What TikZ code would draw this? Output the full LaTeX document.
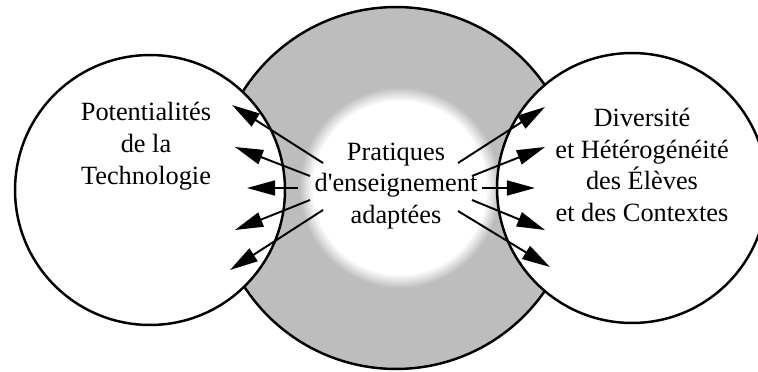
\documentclass[tikz,border=0pt]{standalone}
\usepackage{fontspec}
\setmainfont{Liberation Serif}
\usetikzlibrary{arrows.meta}
\begin{document}
\begin{tikzpicture}[x=0.02cm,y=-0.02cm,
  circ/.style={draw=black, line width=1.4pt},
  lbl/.style={align=center, font=\fontsize{15}{18.1}\selectfont, inner sep=0pt},
  arr/.style={line width=1.1pt, -{Triangle[length=16pt,width=8.5pt]}}]
\useasboundingbox (0,0) rectangle (758,372);
% central ring
\coordinate (cC) at (396,188);
\coordinate (cW) at (400,188);
\coordinate (cL) at (150,190);
\coordinate (cR) at (632,188);
\fill[black!26] (cC) circle[radius=3.62cm];
\foreach \i in {0,...,14}{
  \pgfmathsetmacro{\rr}{0.02*(101-\i)}
  \pgfmathsetmacro{\pc}{26*(14-\i)/14}
  \fill[black!\pc!white] (cW) circle[radius=\rr cm];
}
\draw[circ] (cC) circle[radius=3.62cm];
% side circles
\filldraw[circ, fill=white] (cL) circle[radius=2.7cm];
\filldraw[circ, fill=white] (cR) circle[radius=2.7cm];
% texts
\node[lbl] (tech) at (146,146) {Potentialités\\de la\\Technologie};
\node[lbl] (prat) at (396,186) {Pratiques\\d\textquotesingle enseignement\\adaptées};
\node[lbl] (div) at (642,165) {Diversité\\et Hétérogénéité\\des Élèves\\et des Contextes};
% arrow coordinates
\coordinate (l1s) at (323,163); \coordinate (l1t) at (232,105);
\coordinate (l2s) at (310,176); \coordinate (l2t) at (235,147);
\coordinate (l3s) at (298,188); \coordinate (l3t) at (247,188);
\coordinate (l4s) at (310,200); \coordinate (l4t) at (235,230);
\coordinate (l5s) at (323,210); \coordinate (l5t) at (230,270);
\coordinate (r1s) at (458,163); \coordinate (r1t) at (545,107);
\coordinate (r2s) at (472,176); \coordinate (r2t) at (545,147);
\coordinate (r3s) at (482,188); \coordinate (r3t) at (535,188);
\coordinate (r4s) at (472,200); \coordinate (r4t) at (545,230);
\coordinate (r5s) at (458,211); \coordinate (r5t) at (550,267);
\foreach \a in {l1,l2,l3,l4,l5,r1,r2,r3,r4,r5}{
  \draw[arr] (\a s) -- (\a t);
}
\end{tikzpicture}
\end{document}
